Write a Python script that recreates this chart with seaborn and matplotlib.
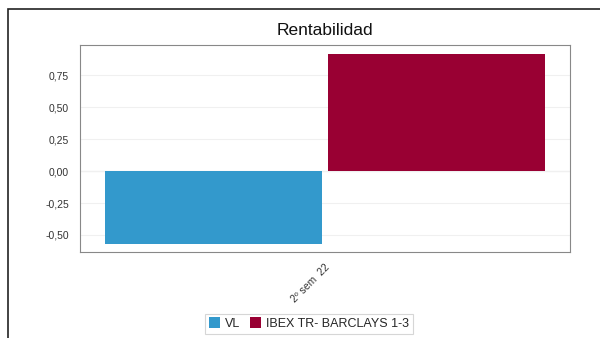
import matplotlib
matplotlib.use("Agg")
import matplotlib.pyplot as plt
import seaborn as sns
import pandas as pd
from matplotlib.patches import Rectangle
from matplotlib.ticker import FuncFormatter, FixedLocator

categories = ["2º sem  22"]
series = ["VL", "IBEX TR- BARCLAYS 1-3"]
values_vl = [-0.57]
values_ibex = [0.915]
colors = ["#3399CC", "#990033"]
yticks = [-0.50, -0.25, 0.00, 0.25, 0.50, 0.75]

df = pd.DataFrame({
    "cat": categories * 2,
    "serie": [series[0]] * len(categories) + [series[1]] * len(categories),
    "val": values_vl + values_ibex,
})

sns.set_style("white")
plt.rcParams["font.family"] = ["Liberation Sans", "DejaVu Sans"]

fig = plt.figure(figsize=(6, 3.38), dpi=100)
ax = fig.add_axes([80/600, 1-252/338, 490/600, 207/338])

sns.barplot(data=df, x="cat", y="val", hue="serie", palette=colors,
            width=0.912, gap=0.03, ax=ax, legend=True, saturation=1,
            edgecolor="none")

ax.set_xlim(-0.5, 0.5)
ax.set_ylim(-0.633, 0.985)
ax.yaxis.set_major_locator(FixedLocator(yticks))
ax.yaxis.set_major_formatter(FuncFormatter(lambda v, p: f"{v:.2f}".replace(".", ",")))
ax.grid(axis="y", color="#f0f0f0", linewidth=0.8)
ax.set_axisbelow(True)
ax.axhline(0, color="#cccccc", linewidth=0.8, zorder=0.5)
ax.set_xlabel("")
ax.set_ylabel("")
ax.tick_params(axis="y", labelsize=7.5, colors="#333333", length=0, pad=8)
ax.tick_params(axis="x", labelsize=7.5, colors="#333333", length=0, pad=7)
for lab in ax.get_xticklabels():
    lab.set_rotation(45)
    lab.set_ha("right")
    lab.set_rotation_mode("anchor")
for s in ax.spines.values():
    s.set_color("#888888")
    s.set_linewidth(0.8)

ax.set_title("Rentabilidad", fontsize=12.5, color="#111111", pad=7)

handles, labels = ax.get_legend_handles_labels()
ax.legend_.remove()
leg = fig.legend(handles, labels, loc="center", bbox_to_anchor=(309/600, 1-323.5/338),
                 ncol=2, fontsize=9, frameon=True, fancybox=False,
                 edgecolor="#cccccc", handlelength=0.9, handleheight=0.9,
                 handletextpad=0.4, columnspacing=0.8, borderpad=0.3,
                 borderaxespad=0)
leg.get_frame().set_linewidth(0.8)

fig.patches.append(Rectangle((7.5/600, -0.1), 1.2, 1-9/338+0.1, transform=fig.transFigure,
                             fill=False, edgecolor="#222222", linewidth=1.2))

fig.savefig("out.png", dpi=100)
